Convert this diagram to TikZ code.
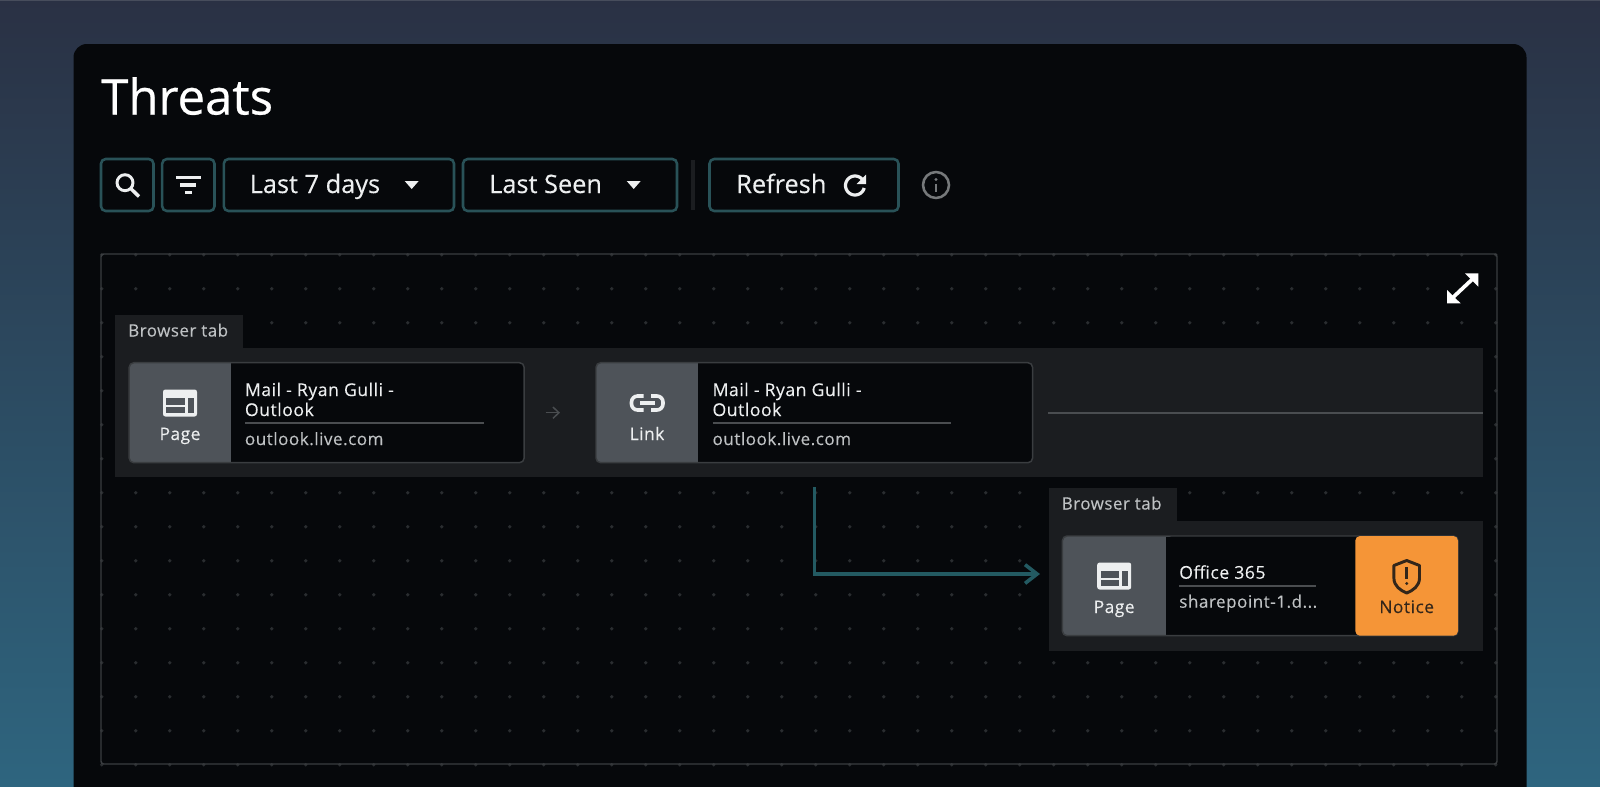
\documentclass[tikz,border=0pt]{standalone}
\usepackage{fontspec}
\setmainfont[FakeBold=0.25]{Open Sans}
\newfontfamily\lblfont[LetterSpace=3,FakeBold=0.2]{Open Sans}
\newfontfamily\titlefont[FakeBold=0.5]{Open Sans}
\usetikzlibrary{arrows.meta}
\definecolor{bgtop}{HTML}{2A3144}
\definecolor{bgmid}{HTML}{2B4459}
\definecolor{bgbot}{HTML}{2E657F}
\definecolor{bgedge}{HTML}{474D5C}
\definecolor{panelc}{HTML}{06080B}
\definecolor{btnb}{HTML}{295258}
\definecolor{groupc}{HTML}{1B1D20}
\definecolor{nodeb}{HTML}{3A3D40}
\definecolor{leftc}{HTML}{4E5359}
\definecolor{ink}{HTML}{EDEFF0}
\definecolor{subink}{HTML}{BFC2C4}
\definecolor{rulec}{HTML}{4A4D50}
\definecolor{orangec}{HTML}{F59537}
\definecolor{darkink}{HTML}{33261A}
\definecolor{linkc}{HTML}{235A62}
\definecolor{dotc}{HTML}{2A2D30}
\definecolor{infoc}{HTML}{76797B}
\tikzset{
  boxbase/.style={rectangle,inner sep=0pt,outer sep=0pt},
  btn/.style={boxbase,draw=btnb,line width=1.9pt,fill=panelc,rounded corners=3.5pt},
  groupbox/.style={boxbase,fill=groupc},
  cardbox/.style={boxbase,fill=panelc,rounded corners=3.5pt},
  cardedge/.style={boxbase,draw=nodeb,line width=1.1pt,rounded corners=3.5pt},
  btntext/.style={anchor=base west,inner sep=0pt,text=ink,font=\fontsize{19}{22}\selectfont},
  tabtext/.style={anchor=base west,inner sep=0pt,text=subink,font=\lblfont\fontsize{12.7}{14}\selectfont},
  titletext/.style={anchor=base west,inner sep=0pt,text=ink,font=\lblfont\fontsize{13.2}{14}\selectfont},
  subtext/.style={anchor=base west,inner sep=0pt,text=subink,font=\lblfont\fontsize{12.8}{14}\selectfont},
  kindtext/.style={anchor=base,inner sep=0pt,text=ink,font=\lblfont\fontsize{13}{14}\selectfont},
}
% name, x1, y1, x2, y2, style
\newcommand\pxbox[6]{%
  \pgfmathsetmacro\bw{(#4-#2)*0.75}\pgfmathsetmacro\bh{(#5-#3)*0.75}%
  \pgfmathsetmacro\bcx{(#2+#4)/2}\pgfmathsetmacro\bcy{(#3+#5)/2}%
  \node[#6,minimum width=\bw pt,minimum height=\bh pt] (#1) at (\bcx,\bcy) {};}
\newcommand\pageicon[2]{%
  \begin{scope}[shift={(#1,#2)}]
    \fill[ink,rounded corners=1.8pt] (-17,-13.5) rectangle (17,13.5);
    \fill[leftc] (-13.7,-4.7) rectangle (4.7,2);
    \fill[leftc] (-13.7,4.3) rectangle (4.7,10.3);
    \fill[leftc] (8,-4.7) rectangle (14,10.3);
  \end{scope}}
% name, x1, x-split, x2, y1, y2
\newcommand\cardleft[6]{%
  \pxbox{#1}{#2}{#5}{#4}{#6}{cardbox}
  \fill[leftc,rounded corners=3.5pt] (#2,#5) rectangle ({#3+8},#6);
  \fill[panelc] (#3,{#5+0.5}) rectangle ({#3+9},{#6-0.5});}
\begin{document}
\begin{tikzpicture}[x=0.75pt,y=-0.75pt]
\useasboundingbox (0,0) rectangle (1600,786);
\shade[top color=bgtop,middle color=bgmid,bottom color=bgbot] (0,0) rectangle (1600,786);
\fill[bgedge] (0,0) rectangle (1600,1.3);
% panel
\fill[panelc,rounded corners=10pt] (73.5,44) rectangle (1526.5,830);
\node[anchor=base west,inner sep=0pt,text=white,font=\titlefont\fontsize{36.8}{40}\selectfont] (title) at (101,114.5) {Threats};
% toolbar
\pxbox{bsearch}{101}{159}{153.5}{211}{btn}
\pxbox{bfilter}{162.2}{159}{214.5}{211}{btn}
\pxbox{blast}{223.8}{159}{454}{211}{btn}
\pxbox{bseen}{463}{159}{677}{211}{btn}
\pxbox{brefresh}{709.5}{159}{898.5}{211}{btn}
\draw[ink,line width=2.2pt] (125,182.7) circle[radius=8];
\draw[ink,line width=2.6pt] (130.7,188.5) -- (139,196.5);
\draw[ink,line width=2.4pt] (175.8,177.7) -- (200.8,177.7);
\draw[ink,line width=2.4pt] (180.3,185) -- (196.3,185);
\draw[ink,line width=2.4pt] (184.8,192.3) -- (191.8,192.3);
\node[btntext] (tlast) at (249.5,193) {Last 7 days};
\fill[ink] (404.7,181) -- (418.7,181) -- (411.7,189) -- cycle;
\node[btntext] (tseen) at (489,193) {Last Seen};
\fill[ink] (626.7,181) -- (640.7,181) -- (633.7,189) -- cycle;
\draw[groupc,line width=2.4pt] (693,160) -- (693,210);
\node[btntext] (trefresh) at (736,193) {Refresh};
\draw[ink,line width=2.4pt] plot[domain=40:345,samples=40] ({855+9.5*cos(\x)},{185.5-9.5*sin(\x)});
\fill[ink] (866,174.5) -- (866,184) -- (856.5,184) -- cycle;
\draw[infoc,line width=1.9pt] (936,185) circle[radius=13];
\fill[infoc] (934.6,184) rectangle (937.4,192);
\fill[infoc] (936,179.5) circle[radius=1.7];
% canvas
\pxbox{canvas}{101}{254}{1497}{764}{boxbase}
\foreach \i in {0,...,41}{\foreach \j in {0,...,15}{
  \fill[dotc] ({101.7+34*\i-0},{254.7+34*\j}) circle[radius=1.9];}}
\draw[nodeb,line width=1.1pt,rounded corners=2pt] (canvas.north west) rectangle (canvas.south east);
% expand icon
\draw[white,line width=2.8pt] (1452,298.3) -- (1473.3,278.3);
\fill[white] (1478.3,273.3) -- (1465,273.3) -- (1478.3,286.7) -- cycle;
\fill[white] (1447,303.3) -- (1447,290) -- (1460.6,303.3) -- cycle;
% group 1
\pxbox{gtabA}{115}{315}{243}{349}{groupbox}
\pxbox{gbodyA}{115}{348}{1482.7}{476.7}{groupbox}
\node[tabtext] (ltabA) at (128,336.5) {Browser tab};
\cardleft{nodeA}{129.3}{231}{524}{362.7}{462.7}
\pageicon{180}{403}
\node[kindtext] (kA) at (180,440) {Page};
\node[titletext] (tA1) at (244.7,396) {Mail - Ryan Gulli -};
\node[titletext] (tA2) at (244.7,416) {Outlook};
\draw[rulec,line width=1.3pt] (245,423) -- (484,423);
\node[subtext] (sA) at (244.7,445) {outlook.live.com};
\node[cardedge,minimum width=296.25pt,minimum height=75pt] (edgeA) at (nodeA) {};
\cardleft{nodeB}{596}{698}{1032.6}{362.7}{462.7}
\draw[ink,line width=2.7pt,rounded corners=4.6pt] (643.5,396) -- (631.5,396) -- (631.5,410) -- (643.5,410);
\draw[ink,line width=2.7pt,rounded corners=4.6pt] (651,396) -- (663,396) -- (663,410) -- (651,410);
\draw[ink,line width=2.7pt] (640,403) -- (655,403);
\node[kindtext] (kB) at (647,440) {Link};
\node[titletext] (tB1) at (712.3,396) {Mail - Ryan Gulli -};
\node[titletext] (tB2) at (712.3,416) {Outlook};
\draw[rulec,line width=1.3pt] (712.7,423) -- (951,423);
\node[subtext] (sB) at (712.3,445) {outlook.live.com};
\node[cardedge,minimum width=327.45pt,minimum height=75pt] (edgeB) at (nodeB) {};
\draw[-{Straight Barb[length=4.5pt,width=8.5pt]},rulec,line width=1.1pt,shorten <=16.3pt,shorten >=27pt] (nodeA.east) -- (nodeB.west);
\coordinate (lineL) at (1048,413.3);
\coordinate (lineR) at (1482.7,413.3);
\draw[rulec,line width=1.3pt] (lineL) -- (lineR);
% group 2
\pxbox{gtabB}{1048.6}{488.3}{1177}{522}{groupbox}
\pxbox{gbodyB}{1048.6}{521}{1482.7}{650.7}{groupbox}
\node[tabtext] (ltabB) at (1061.5,509.5) {Browser tab};
\cardleft{nodeC}{1062.4}{1165.7}{1458}{536}{635.7}
\pageicon{1114.2}{576}
\node[kindtext] (kC) at (1114.2,613) {Page};
\node[titletext] (tC) at (1179,578.7) {Office 365};
\draw[rulec,line width=1.3pt] (1179.4,586.3) -- (1316,586.3);
\node[subtext] (sC) at (1179,607.7) {sharepoint-1.d...};
\node[cardedge,minimum width=296.7pt,minimum height=74.8pt] (edgeC) at (nodeC) {};
\fill[orangec,rounded corners=3.5pt] (1355.3,536) -- (1458,536) -- (1458,635.7) -- (1355.3,635.7) -- cycle;
\draw[darkink,line width=2.2pt,line join=round] (1406.7,560.5) -- (1419.5,565.5) -- (1419.5,578)
   .. controls (1419.5,586) and (1413,590.5) .. (1406.7,593)
   .. controls (1400.4,590.5) and (1393.9,586) .. (1393.9,578) -- (1393.9,565.5) -- cycle;
\fill[darkink] (1405.4,567) rectangle (1408,579);
\fill[darkink] (1406.7,583.5) circle[radius=1.6];
\node[kindtext,text=darkink] (kN) at (1406.7,613) {Notice};
% connector
\coordinate (dropstart) at (814.4,487.3);
\coordinate (dropend) at (1040,574);
\draw[-{Straight Barb[length=9pt,width=14pt]},linkc,line width=2.7pt] (dropstart) |- (dropend);
\end{tikzpicture}
\end{document}
